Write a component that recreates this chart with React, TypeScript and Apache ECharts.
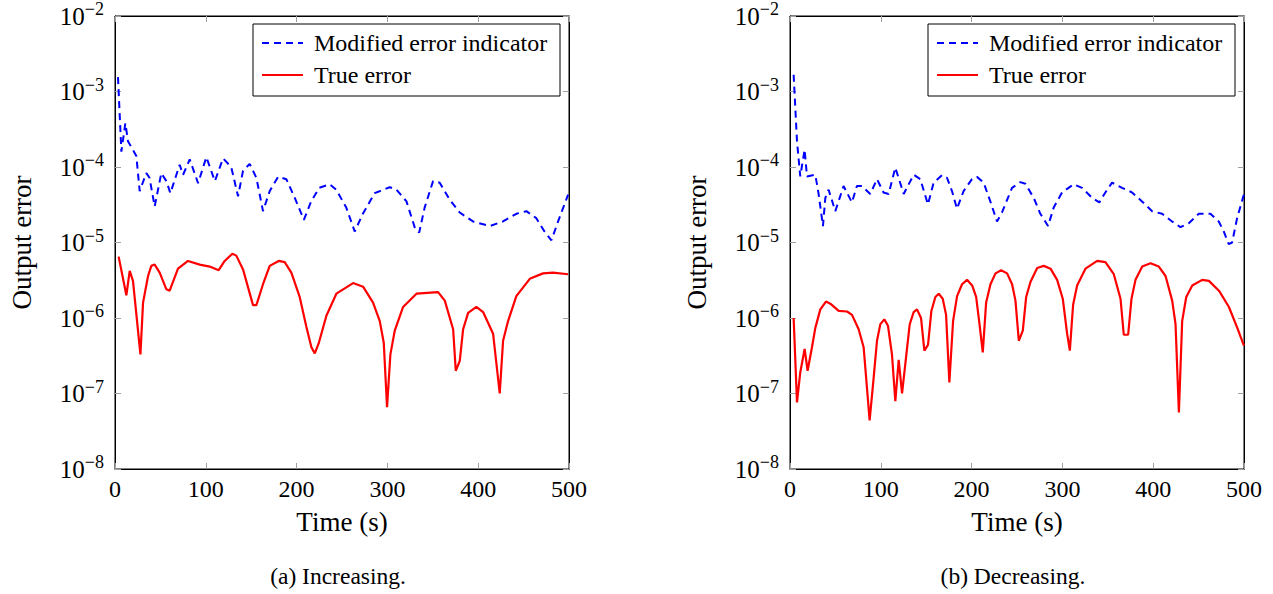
import React, { useEffect, useRef } from "react";
import * as echarts from "echarts";

const SERIES_NAMES = ["Modified error indicator", "True error"];
const CAPTIONS = ["(a) Increasing.", "(b) Decreasing."];
const X_TITLE = "Time (s)";
const Y_TITLE = "Output error";

// Panel (a): modified error indicator [time, value]
const blueA: [number, number][] = [
  [3.3, 1.55e-3], [7, 1.6e-4], [11.4, 3.8e-4], [14.3, 2.2e-4], [23.5, 1.4e-4], [27.2, 4.8e-5],
  [34.5, 8.3e-5], [38, 7.2e-5], [43.7, 3.0e-5], [51, 8.3e-5], [56.6, 6.5e-5], [61, 4.5e-5],
  [71.2, 1.07e-4], [75, 7.9e-5], [82.3, 1.26e-4], [91.5, 6.1e-5], [100.6, 1.35e-4], [110, 6.5e-5],
  [119, 1.3e-4], [128, 1.0e-4], [135.5, 4.1e-5], [141, 8.9e-5], [148.3, 1.1e-4], [155.7, 7.2e-5],
  [163, 2.6e-5], [170.4, 4.8e-5], [179.6, 7.4e-5], [188.7, 6.9e-5], [198, 3.9e-5], [208, 2.0e-5],
  [216, 3.5e-5], [225, 5.3e-5], [236.4, 5.9e-5], [243.7, 5.0e-5], [254.7, 2.9e-5], [264, 1.4e-5],
  [273, 2.4e-5], [286, 4.5e-5], [302.5, 5.4e-5], [310, 5.0e-5], [321, 3.5e-5], [330, 1.6e-5],
  [335, 1.35e-5], [341, 2.9e-5], [350.3, 6.5e-5], [357.6, 6.2e-5], [368.6, 3.7e-5], [379.6, 2.5e-5],
  [394.3, 1.9e-5], [412.6, 1.65e-5], [427.3, 1.9e-5], [442, 2.4e-5], [453, 2.6e-5], [464, 2.1e-5],
  [473, 1.4e-5], [480.6, 1.07e-5], [488, 1.9e-5], [499, 4.3e-5]
];

// Panel (a): true error
const redA: [number, number][] = [
  [4, 6.5e-6], [12.5, 2.0e-6], [16.2, 4.2e-6], [19.8, 3.1e-6], [28, 3.3e-7], [30.9, 1.6e-6],
  [36.4, 3.6e-6], [40, 4.9e-6], [43.7, 5.1e-6], [49.2, 4.0e-6], [56.6, 2.4e-6], [60.2, 2.3e-6],
  [69.4, 4.5e-6], [80.4, 5.7e-6], [93.3, 5.1e-6], [104.3, 4.8e-6], [114.2, 4.3e-6], [120.8, 5.7e-6],
  [129.3, 7.1e-6], [133.6, 6.7e-6], [141, 4.4e-6], [152, 1.48e-6], [155.7, 1.48e-6], [163, 2.8e-6],
  [170.4, 4.9e-6], [180.3, 5.7e-6], [186.9, 5.5e-6], [194.2, 4.0e-6], [203.4, 1.9e-6], [210.8, 7.6e-7],
  [216.3, 4.1e-7], [220, 3.4e-7], [224.3, 4.6e-7], [232.8, 1.07e-6], [243.8, 2.1e-6], [262.2, 2.9e-6],
  [273.2, 2.6e-6], [284.2, 1.6e-6], [291.6, 9.1e-7], [296, 4.7e-7], [299.6, 6.6e-8], [303.3, 3.3e-7],
  [308.1, 6.8e-7], [317.3, 1.4e-6], [332, 2.1e-6], [355.8, 2.2e-6], [363.2, 1.7e-6], [372.4, 7.1e-7],
  [375.3, 2.0e-7], [379.7, 2.7e-7], [383.4, 7.1e-7], [388.9, 1.17e-6], [398, 1.4e-6], [405.4, 1.2e-6],
  [416.4, 6.2e-7], [423.7, 1.0e-7], [427.4, 5.0e-7], [432.9, 9.1e-7], [442, 1.95e-6], [456.8, 3.3e-6],
  [471.4, 3.9e-6], [482.4, 4.0e-6], [499, 3.8e-6]
];

// Panel (b): modified error indicator
const blueB: [number, number][] = [
  [4, 1.67e-3], [7.7, 2.2e-4], [11.3, 7.5e-5], [16.1, 1.7e-4], [18.7, 7.5e-5], [27.9, 7.9e-5],
  [31.5, 4.4e-5], [36.3, 1.65e-5], [38.9, 3.9e-5], [42.5, 5.0e-5], [49.9, 2.6e-5], [59, 5.6e-5],
  [68.2, 3.4e-5], [73.7, 5.6e-5], [79.2, 5.6e-5], [88.4, 4.4e-5], [95.8, 6.9e-5], [103, 4.6e-5],
  [108.6, 4.4e-5], [116, 9.8e-5], [125.2, 4.4e-5], [136.2, 7.9e-5], [143.5, 6.9e-5], [151.9, 3.2e-5],
  [158.2, 6.2e-5], [167.4, 7.8e-5], [172.9, 7.2e-5], [178.4, 4.8e-5], [183.9, 2.8e-5], [191.2, 4.8e-5],
  [200.4, 6.9e-5], [205.9, 7.4e-5], [213.3, 6.2e-5], [220.6, 3.5e-5], [228, 1.9e-5], [233.5, 2.5e-5],
  [244.5, 5.3e-5], [253.7, 6.3e-5], [259.2, 6.0e-5], [268.4, 3.9e-5], [275.7, 2.4e-5], [284.2, 1.65e-5],
  [290.4, 2.9e-5], [299.6, 4.6e-5], [312.5, 5.9e-5], [321.6, 5.3e-5], [332.7, 3.9e-5], [340.7, 3.4e-5],
  [347.3, 4.6e-5], [354.7, 6.2e-5], [365.7, 5.3e-5], [376.7, 4.6e-5], [387.7, 3.5e-5], [398.8, 2.6e-5],
  [409.8, 2.4e-5], [420.8, 1.9e-5], [430, 1.6e-5], [439.2, 1.8e-5], [450.2, 2.4e-5], [463, 2.4e-5],
  [472.2, 1.9e-5], [477.7, 1.4e-5], [483.2, 9.5e-6], [486.9, 1.0e-5], [492.4, 2.1e-5], [499.8, 4.3e-5]
];

// Panel (b): true error
const redB: [number, number][] = [
  [4, 1.0e-6], [7.7, 7.6e-8], [11.3, 1.9e-7], [16.1, 3.9e-7], [19.4, 2.0e-7], [24.2, 4.1e-7],
  [27.9, 7.4e-7], [33.4, 1.3e-6], [39.6, 1.65e-6], [44.4, 1.55e-6], [53.6, 1.24e-6], [62.8, 1.22e-6],
  [68.3, 1.1e-6], [75.6, 7.1e-7], [81.1, 4.1e-7], [87.7, 4.4e-8], [92.1, 1.6e-7], [95.8, 5.0e-7],
  [99.5, 8.3e-7], [103.9, 9.6e-7], [107.9, 7.9e-7], [112.3, 3.3e-7], [116, 7.9e-8], [119.7, 2.8e-7],
  [123.4, 1.0e-7], [127.8, 3.0e-7], [131.8, 8.2e-7], [136.2, 1.2e-6], [139.9, 1.3e-6], [144.3, 1.0e-6],
  [148, 3.7e-7], [152, 4.4e-7], [155.7, 1.24e-6], [160.1, 1.9e-6], [163.8, 2.1e-6], [168.2, 1.8e-6],
  [171.9, 1.1e-6], [175.5, 1.4e-7], [179.6, 9.1e-7], [184, 1.95e-6], [189.5, 2.8e-6], [195, 3.2e-6],
  [200.6, 2.7e-6], [205, 1.9e-6], [208.7, 8.3e-7], [212.3, 3.5e-7], [216, 1.6e-6], [220.8, 2.8e-6],
  [226.3, 3.9e-6], [232.5, 4.3e-6], [239.1, 3.9e-6], [244.6, 2.8e-6], [248.3, 1.7e-6], [252, 5.0e-7],
  [256.4, 6.8e-7], [260.1, 1.9e-6], [264.8, 3.0e-6], [272.2, 4.6e-6], [279.5, 4.9e-6], [286.9, 4.5e-6],
  [294.2, 3.2e-6], [300.4, 1.8e-6], [305.2, 6.2e-7], [308.2, 3.7e-7], [311.8, 1.5e-6], [316.2, 2.7e-6],
  [325.4, 4.5e-6], [338.3, 5.7e-6], [347.4, 5.5e-6], [356.6, 3.8e-6], [364, 1.8e-6], [367.6, 6.0e-7],
  [372.4, 6.0e-7], [376.1, 1.8e-6], [380.5, 3.2e-6], [387.9, 4.8e-6], [397, 5.3e-6], [406.2, 4.8e-6],
  [413.6, 3.6e-6], [420.9, 1.7e-6], [424.6, 8.3e-7], [428.3, 5.6e-8], [431.9, 9.1e-7], [436.4, 1.9e-6],
  [443, 2.7e-6], [454, 3.2e-6], [461.4, 3.1e-6], [472.4, 2.3e-6], [483.4, 1.4e-6], [492.6, 7.4e-7],
  [499.9, 4.3e-7]
];

const X_MIN = 0;
const X_MAX = 500;
const X_STEP = 100;
const Y_MIN = 1e-8;
const Y_MAX = 1e-2;

const FONT = "'Liberation Serif', 'Times New Roman', 'DejaVu Serif', serif";
const BLUE = "#0000ff";
const RED = "#ff0000";
const DASH = [7, 5];

export default function App() {
  const ref = useRef<HTMLDivElement>(null);
  useEffect(() => {
    if (!ref.current) return;
    const chart = echarts.init(ref.current, undefined, { renderer: "svg" });
    const panels = [
      { left: 115, blue: blueA, red: redA },
      { left: 790, blue: blueB, red: redB },
    ];
    const W = 454;
    const TOP = 15;
    const H = 454;
    const grids: any[] = [];
    const xAxes: any[] = [];
    const yAxes: any[] = [];
    const series: any[] = [];
    const graphics: any[] = [];
    const tickStyle = { color: "#a0a0a0", width: 1 };
    panels.forEach((p, i) => {
      grids.push({
        left: p.left, top: TOP, width: W, height: H,
        show: true, borderColor: "#000", borderWidth: 1, backgroundColor: "transparent",
      });
      const xa = 2 * i;
      const ya = 2 * i;
      xAxes.push({
        gridIndex: i, type: "value", min: X_MIN, max: X_MAX, interval: X_STEP, position: "bottom",
        axisLine: { show: true, onZero: false, lineStyle: { color: "#000" } },
        axisTick: { show: true, inside: true, length: 6, lineStyle: tickStyle },
        axisLabel: { show: true, fontFamily: FONT, fontSize: 24, color: "#000", margin: 8 },
        splitLine: { show: false },
        name: X_TITLE, nameLocation: "middle", nameGap: 39,
        nameTextStyle: { fontFamily: FONT, fontSize: 27, color: "#000" },
      });
      xAxes.push({
        gridIndex: i, type: "value", min: X_MIN, max: X_MAX, interval: X_STEP, position: "top",
        axisLine: { show: true, onZero: false, lineStyle: { color: "#000" } },
        axisTick: { show: true, inside: true, length: 6, lineStyle: tickStyle },
        axisLabel: { show: false }, splitLine: { show: false },
      });
      const yLabel = {
        show: true, color: "#000", margin: 11,
        formatter: (v: number) => {
          const e = Math.round(Math.log10(v));
          return "{b|10}{s|" + (e < 0 ? "\u2212" + -e : String(e)) + "}";
        },
        rich: {
          b: { fontFamily: FONT, fontSize: 25, color: "#000" },
          s: { fontFamily: FONT, fontSize: 18, color: "#000", padding: [0, 0, 14, 0] },
        },
      };
      yAxes.push({
        gridIndex: i, type: "log", logBase: 10, min: Y_MIN, max: Y_MAX, interval: 1, position: "left",
        axisLine: { show: true, onZero: false, lineStyle: { color: "#000" } },
        axisTick: { show: true, inside: true, length: 6, lineStyle: tickStyle },
        minorTick: { show: false },
        axisLabel: yLabel, splitLine: { show: false },
        name: Y_TITLE, nameLocation: "middle", nameGap: 80, nameRotate: 90,
        nameTextStyle: { fontFamily: FONT, fontSize: 27, color: "#000" },
      });
      yAxes.push({
        gridIndex: i, type: "log", logBase: 10, min: Y_MIN, max: Y_MAX, interval: 1, position: "right",
        axisLine: { show: true, onZero: false, lineStyle: { color: "#000" } },
        axisTick: { show: true, inside: true, length: 6, lineStyle: tickStyle },
        axisLabel: { show: false }, splitLine: { show: false },
      });
      series.push({
        name: SERIES_NAMES[0], type: "line", xAxisIndex: xa, yAxisIndex: ya, data: p.blue,
        symbol: "none", lineStyle: { color: BLUE, width: 2, type: DASH },
        itemStyle: { color: BLUE },
      });
      series.push({
        name: SERIES_NAMES[1], type: "line", xAxisIndex: xa, yAxisIndex: ya, data: p.red,
        symbol: "none", lineStyle: { color: RED, width: 2.2 },
        itemStyle: { color: RED },
      });
      // legend box drawn as graphic elements
      const lx = p.left + 138;
      const ly = 24;
      graphics.push({
        type: "group", z: 100,
        children: [
          { type: "rect", shape: { x: lx, y: ly, width: 307, height: 72 },
            style: { fill: "#fff", stroke: "#000", lineWidth: 1 } },
          { type: "line", shape: { x1: lx + 9, y1: ly + 19, x2: lx + 50, y2: ly + 19 },
            style: { stroke: BLUE, lineWidth: 2, lineDash: DASH } },
          { type: "text", x: lx + 61, y: ly + 19,
            style: { text: SERIES_NAMES[0], fontFamily: FONT, fontSize: 24, fill: "#000", textVerticalAlign: "middle" } },
          { type: "line", shape: { x1: lx + 9, y1: ly + 51, x2: lx + 50, y2: ly + 51 },
            style: { stroke: RED, lineWidth: 2.2 } },
          { type: "text", x: lx + 61, y: ly + 51,
            style: { text: SERIES_NAMES[1], fontFamily: FONT, fontSize: 24, fill: "#000", textVerticalAlign: "middle" } },
        ],
      });
      graphics.push({
        type: "text", x: p.left + W / 2 - 4, y: 576,
        style: { text: CAPTIONS[i], fontFamily: FONT, fontSize: 23.5, fill: "#000", textAlign: "center", textVerticalAlign: "middle" },
      });
    });
    chart.setOption({
      animation: false,
      backgroundColor: "#fff",
      textStyle: { fontFamily: FONT },
      grid: grids,
      xAxis: xAxes,
      yAxis: yAxes,
      series,
      graphic: graphics,
    });
    return () => chart.dispose();
  }, []);
  return (
    <div
      ref={ref}
      style={{ position: "fixed", left: 0, top: 0, width: 1273, height: 594, background: "#fff" }}
    />
  );
}
